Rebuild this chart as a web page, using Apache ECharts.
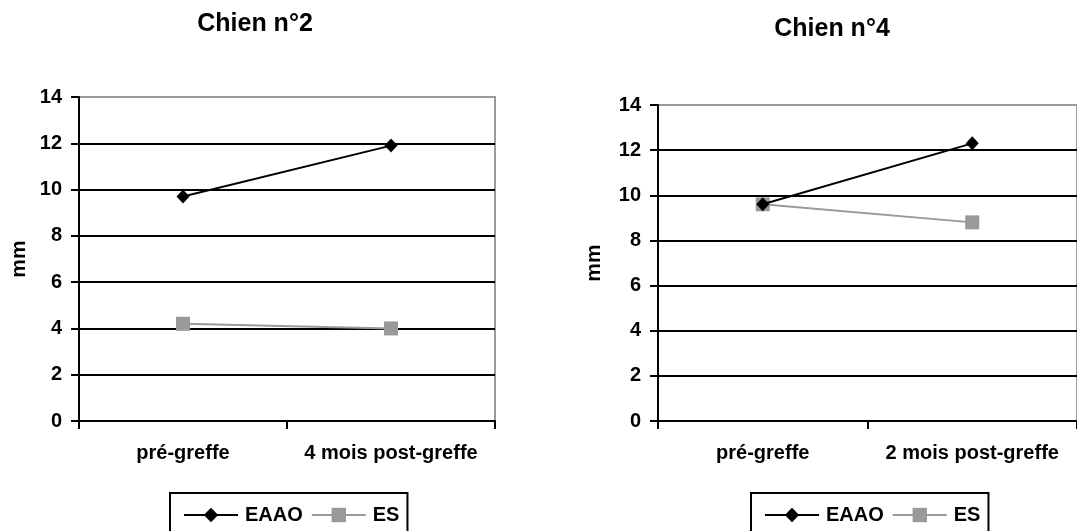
<!DOCTYPE html>
<html>
<head>
<meta charset="utf-8">
<script src="https://cdn.jsdelivr.net/npm/echarts@6/dist/echarts.min.js"></script>
<style>
  html, body { margin: 0; padding: 0; background: #fff; }
  #chart { width: 1077px; height: 531px; }
</style>
</head>
<body>
<div id="chart"></div>
<script>
// Measurements (mm) for two dogs, before and after the graft
const titles = ['Chien n°2', 'Chien n°4'];
const categoriesDog2 = ['pré-greffe', '4 mois post-greffe'];
const categoriesDog4 = ['pré-greffe', '2 mois post-greffe'];
const seriesNames = ['EAAO', 'ES'];
const eaaoDog2 = [9.7, 11.9];
const esDog2 = [4.2, 4.0];
const eaaoDog4 = [9.6, 12.3];
const esDog4 = [9.6, 8.8];
const yTicks = { min: 0, max: 14, interval: 2 };

const FONT = '"Liberation Sans", Arial, sans-serif';
const BLACK = '#000';
const GREY = '#999';
const EDGE = '#9a9a9a';

// grid lines: black at every tick, grey at the top edge (14)
const splitColors = [BLACK, BLACK, BLACK, BLACK, BLACK, BLACK, BLACK, EDGE];

function yAxis(gridIndex, nameGap) {
  return {
    type: 'value', gridIndex,
    min: yTicks.min, max: yTicks.max, interval: yTicks.interval,
    name: 'mm', nameLocation: 'middle', nameGap, nameRotate: 90,
    nameTextStyle: { fontFamily: FONT, fontWeight: 'bold', fontSize: 21, color: BLACK },
    axisLine: { show: true, lineStyle: { color: BLACK, width: 2 } },
    axisTick: { show: true, inside: false, length: 8, lineStyle: { color: BLACK, width: 2 } },
    axisLabel: { fontFamily: FONT, fontWeight: 'bold', fontSize: 20, color: BLACK, margin: 17 },
    splitLine: { show: true, lineStyle: { color: splitColors, width: 2 } }
  };
}

function xAxis(gridIndex, data) {
  return {
    type: 'category', gridIndex, data, boundaryGap: true,
    axisLine: { show: true, lineStyle: { color: BLACK, width: 2 } },
    axisTick: { show: true, inside: false, length: 8, alignWithLabel: false, lineStyle: { color: BLACK, width: 2 } },
    axisLabel: { fontFamily: FONT, fontWeight: 'bold', fontSize: 20, color: BLACK, margin: 22, interval: 0 }
  };
}

function eaao(idx, data) {
  return {
    name: seriesNames[0], type: 'line', xAxisIndex: idx, yAxisIndex: idx, data,
    symbol: 'diamond', symbolSize: [13, 14],
    lineStyle: { color: BLACK, width: 2 },
    itemStyle: { color: BLACK },
    z: 3, animation: false
  };
}

function es(idx, data) {
  return {
    name: seriesNames[1], type: 'line', xAxisIndex: idx, yAxisIndex: idx, data,
    symbol: 'rect', symbolSize: 14,
    lineStyle: { color: GREY, width: 2 },
    itemStyle: { color: GREY },
    z: 2, animation: false
  };
}

function legend(left) {
  return {
    left, top: 493,
    data: seriesNames,
    orient: 'horizontal',
    itemWidth: 54, itemHeight: 18, itemGap: 8,
    padding: [12, 8, 20, 13],
    borderColor: BLACK, borderWidth: 2,
    textStyle: { fontFamily: FONT, fontWeight: 'bold', fontSize: 20, color: BLACK, padding: [0, 0, 0, 2] },
    selectedMode: false
  };
}

const chart = echarts.init(document.getElementById('chart'), null, { renderer: 'canvas' });
chart.setOption({
  backgroundColor: '#fff',
  animation: false,
  title: [
    { text: titles[0], left: 250, top: 7, textAlign: 'center',
      textStyle: { fontFamily: FONT, fontWeight: 'bold', fontSize: 25, color: BLACK } },
    { text: titles[1], left: 827, top: 12, textAlign: 'center',
      textStyle: { fontFamily: FONT, fontWeight: 'bold', fontSize: 25, color: BLACK } }
  ],
  grid: [
    { left: 79, top: 97, width: 416, height: 324, show: true, borderColor: EDGE, borderWidth: 2, backgroundColor: 'transparent' },
    { left: 658, top: 105, width: 430, height: 316, show: true, borderColor: EDGE, borderWidth: 2, backgroundColor: 'transparent' }
  ],
  xAxis: [xAxis(0, categoriesDog2), xAxis(1, categoriesDog4)],
  yAxis: [yAxis(0, 49), yAxis(1, 53)],
  legend: [legend(170), legend(751)],
  series: [eaao(0, eaaoDog2), es(0, esDog2), eaao(1, eaaoDog4), es(1, esDog4)]
});
</script>
</body>
</html>
